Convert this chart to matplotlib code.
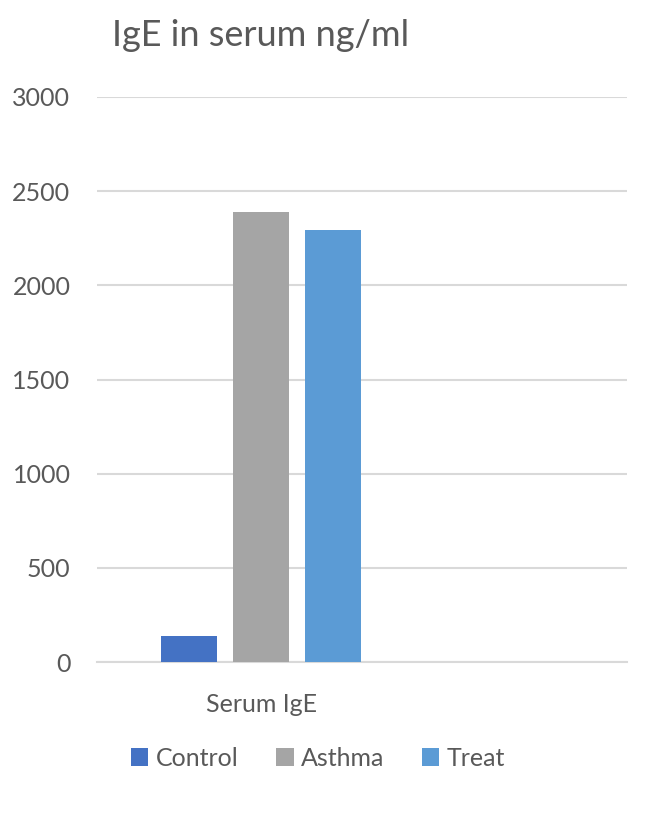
import matplotlib.pyplot as plt
import numpy as np

plt.rcParams['font.family'] = ['Lato', 'DejaVu Sans']

category = 'Serum IgE'
series   = ['Control', 'Asthma', 'Treat']
values   = [140, 2390, 2295]
colors   = ['#4472C4', '#A5A5A5', '#5B9BD5']
yticks   = [0, 500, 1000, 1500, 2000, 2500, 3000]

text_color = '#595959'

fig = plt.figure(figsize=(6.5, 8.13), dpi=100)
axes = fig.add_axes([0.149, 0.1857, 0.816, 0.695])

x = np.arange(len(series))
for i in range(len(series)):
    axes.bar(x[i], values[i], width=0.78, color=colors[i], label=series[i], zorder=3)

axes.set_xlim(-1.28, 6.08)
axes.set_ylim(0, 3000)
axes.set_yticks(yticks)
axes.set_xticks([x[1]])
axes.set_xticklabels([category])
axes.tick_params(axis='y', length=0, pad=19, labelsize=18, labelcolor=text_color)
axes.tick_params(axis='x', length=0, pad=22, labelsize=18, labelcolor=text_color)
axes.grid(axis='y', color='#D9D9D9', linewidth=1.5, zorder=0)
for s in ['top', 'right', 'left']:
    axes.spines[s].set_visible(False)
axes.spines['bottom'].set_color('#D9D9D9')
axes.spines['bottom'].set_linewidth(1.5)

fig.text(261 / 650, 1 - 36 / 813, 'IgE in serum ng/ml', ha='center', va='center',
         fontsize=26, color=text_color)

fig.legend(loc='center', bbox_to_anchor=(318 / 650, 1 - 758 / 813), ncol=3,
           frameon=False, fontsize=18, labelcolor=text_color,
           handlelength=0.7, handleheight=0.7, handletextpad=0.3, columnspacing=1.5)

fig.savefig('out.png', dpi=100)
